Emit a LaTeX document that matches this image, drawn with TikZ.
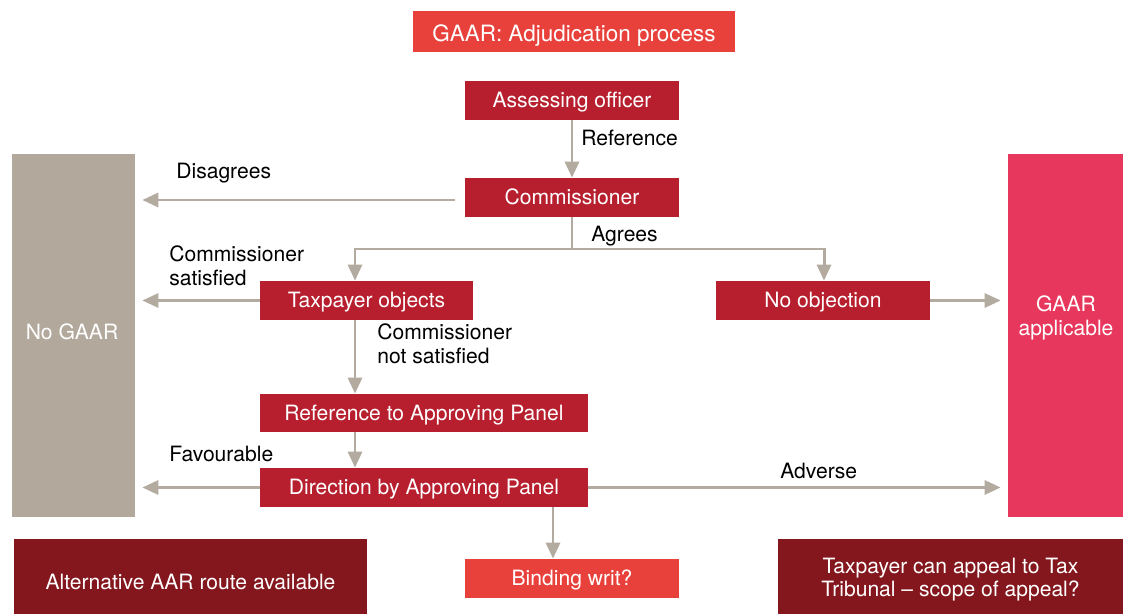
\documentclass[tikz,border=0pt]{standalone}
\usepackage{fontspec}
\setmainfont{TeX Gyre Heros}
\usepackage{tikz}
\usetikzlibrary{arrows.meta}

\definecolor{titlered}{HTML}{E8403A}
\definecolor{boxred}{HTML}{B71F2E}
\definecolor{darkred}{HTML}{84171D}
\definecolor{gaarpink}{HTML}{E8375C}
\definecolor{taupe}{HTML}{B2A89C}
\definecolor{arrowgrey}{HTML}{B3ABA0}

\begin{document}
\begin{tikzpicture}[x=0.02cm,y=-0.02cm,
    font=\fontsize{12}{13.5}\selectfont,
    box/.style={rectangle, fill=boxred, text=white, inner sep=0pt, text height=0.72em+1pt, text depth=0pt, minimum width=4.28cm, minimum height=0.78cm},
    flow/.style={draw=arrowgrey, line width=1.7pt, -{Triangle[length=0.32cm,width=0.28cm]}},
    lbl/.style={anchor=west, inner sep=0pt, align=left, text=black}]

      \useasboundingbox (0,0) rectangle (1123,614);

      % side columns
      \node[rectangle, fill=taupe, text=white, minimum width=2.46cm, minimum height=7.26cm] (nogaar) at (73.5,335.5) {};
      \node[text=white, inner sep=0pt] (nogaartext) at (72,332) {No GAAR};
      \node[rectangle, fill=gaarpink, minimum width=2.3cm, minimum height=7.26cm] (gaar) at (1065.5,335.5) {};
      \node[text=white, inner sep=0pt, align=center] (gaartext) at (1066,318) {GAAR\\applicable};

      % boxes
      \node[box, fill=titlered, minimum width=6.44cm, minimum height=0.82cm, text height=0.72em+4pt, font=\fontsize{12.8}{14}\selectfont] (title) at (574,31.5) {GAAR: Adjudication process};
      \node[box] (assess) at (572,100.5) {Assessing officer};
      \node[box] (comm) at (572,197.5) {Commissioner};
      \node[box, minimum width=4.26cm] (taxobj) at (366.5,300.5) {Taxpayer objects};
      \node[box] (noobj) at (823,300.5) {No objection};
      \node[box, minimum width=6.56cm, minimum height=0.76cm] (refpanel) at (424,413) {Reference to Approving Panel};
      \node[box, minimum width=6.56cm] (direction) at (424,487.5) {Direction by Approving Panel};
      \node[box, fill=titlered] (binding) at (572,578.5) {Binding writ?};
      \node[box, fill=darkred, minimum width=7.06cm, minimum height=1.5cm, text height=0.72em+8pt] (aar) at (190.5,576.5) {Alternative AAR route available};
      \node[box, fill=darkred, minimum width=6.9cm, minimum height=1.62cm, text height=, text depth=, align=center] (appeal) at (950.5,579.5) {Taxpayer can appeal to Tax\\Tribunal -- scope of appeal?};

      \coordinate (split) at (572,249);
      \coordinate (colA) at (355,0);
      \coordinate (colB) at (553,0);
      \coordinate (colC) at (824,0);

      % connectors
      \draw[flow] (assess) -- (comm);
      \draw[flow, shorten <=0.2cm, shorten >=0.14cm] (comm.west |- 0,200) -- (nogaar.east |- 0,200);
      \draw[flow] (comm) -- (split) -| (taxobj.north -| colA);
      \draw[flow] (split) -| (noobj.north -| colC);
      \draw[flow] (taxobj.south -| colA) -- (refpanel.north -| colA);
      \draw[flow] (refpanel.south -| colA) -- (direction.north -| colA);
      \draw[flow] (direction.south -| colB) -- (binding.north -| colB);

      \foreach \from/\to in {taxobj/nogaar, direction/nogaar}
         \draw[flow, shorten >=0.14cm] (\from.west) -- (\from.west -| \to.east);
      \foreach \from/\to in {noobj/gaar, direction/gaar}
         \draw[flow, shorten >=0.14cm] (\from.east) -- (\from.east -| \to.west);

      % labels
      \node[lbl] (lref) at (581,138) {Reference};
      \node[lbl] (ldis) at (176,173) {Disagrees};
      \node[lbl] (lagr) at (591,236) {Agrees};
      \node[lbl] (lsat) at (169,266) {Commissioner\\satisfied};
      \node[lbl] (lnsat) at (377,344) {Commissioner\\not satisfied};
      \node[lbl] (lfav) at (169,454) {Favourable};
      \node[lbl] (ladv) at (780,471) {Adverse};

\end{tikzpicture}
\end{document}
